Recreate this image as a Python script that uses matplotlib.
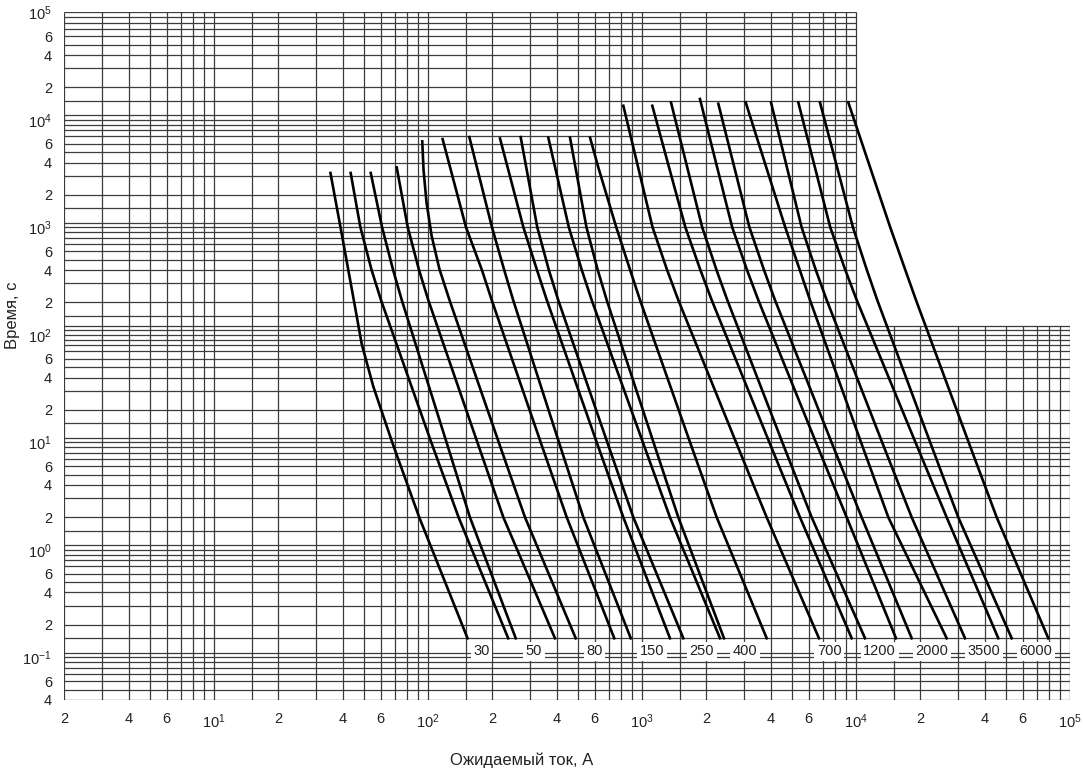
import matplotlib.pyplot as plt
from matplotlib.ticker import NullLocator

plt.rcParams['font.family'] = ['Liberation Sans', 'DejaVu Sans']
plt.rcParams['mathtext.default'] = 'regular'

# time-current characteristics: one list of currents (A) and times (s) per curve
curve_current = [
    [35, 39, 45, 49, 55.5, 68, 91, 153],
    [43.5, 48.3, 54.5, 60.3, 103.5, 139, 237],
    [54, 61, 68.7, 75.4, 122, 157, 257],
    [71.4, 80.4, 90.8, 100.3, 170, 225, 392],
    [94, 95.3, 98.4, 104, 113, 126, 214, 284, 490],
    [117, 150.5, 178.6, 198.5, 336, 445, 742],
    [156, 199, 227, 250, 409, 532, 886],
    [217, 279, 323, 359, 614, 818, 1351],
    [271, 324, 367, 406, 688, 911, 1560],
    [365, 455, 523, 582, 1009, 1351, 2315],
    [461, 550, 621, 684, 1131, 1478, 2416],
    [572, 625, 758, 880, 979, 1676, 2234, 3825],
    [818, 1120, 1310, 1478, 2750, 3825, 6714],
    [1117, 1594, 1874, 2117, 3934, 5474, 9548],
    [1366, 1911, 2229, 2504, 4524, 6209, 11020],
    [1866, 2639, 3095, 3495, 6494, 9047, 15380],
    [2273, 3176, 3716, 4182, 7682, 10630, 18210],
    [3052, 4669, 5462, 6095, 10550, 14160, 26530],
    [4007, 5569, 6488, 7297, 13240, 18210, 32310],
    [5375, 7578, 8913, 10080, 18950, 26530, 46240],
    [6786, 9672, 11240, 12570, 22200, 30060, 53410],
    [9204, 14450, 17000, 19070, 33590, 45450, 79170],
]
curve_time = [
    [3200, 1000, 210, 82, 33, 10, 2, 0.15],
    [3200, 1000, 400, 210, 10, 2, 0.15],
    [3200, 1000, 400, 210, 10, 2, 0.15],
    [3600, 1000, 400, 210, 10, 2, 0.15],
    [6300, 3400, 1700, 830, 410, 210, 10, 2, 0.15],
    [6600, 1000, 400, 210, 10, 2, 0.15],
    [6900, 1000, 400, 210, 10, 2, 0.15],
    [6700, 1000, 400, 210, 10, 2, 0.15],
    [6900, 1000, 400, 210, 10, 2, 0.15],
    [6800, 1000, 400, 210, 10, 2, 0.15],
    [6800, 1000, 400, 210, 10, 2, 0.15],
    [6800, 3600, 1000, 400, 210, 10, 2, 0.15],
    [13500, 1000, 400, 210, 10, 2, 0.15],
    [13500, 1000, 400, 210, 10, 2, 0.15],
    [14500, 1000, 400, 210, 10, 2, 0.15],
    [15600, 1000, 400, 210, 10, 2, 0.15],
    [14100, 1000, 400, 210, 10, 2, 0.15],
    [14500, 1000, 400, 210, 10, 2, 0.15],
    [14500, 1000, 400, 210, 10, 2, 0.15],
    [14500, 1000, 400, 210, 10, 2, 0.15],
    [14500, 1000, 400, 210, 10, 2, 0.15],
    [14500, 1000, 400, 210, 10, 2, 0.15],
]

# rated current labels and where they sit
rating_labels = ['30', '50', '80', '150', '250', '400', '700', '1200', '2000', '3500', '6000']
rating_label_current = [178, 313, 600, 1110, 1900, 3030, 7500, 12900, 22600, 39600, 69300]
rating_label_time = 0.113

x_ticks = [2, 4, 6, 10, 20, 40, 60, 100, 200, 400, 600, 1e3, 2e3, 4e3, 6e3, 1e4,
           2e4, 4e4, 6e4, 1e5]
x_ticklabels = ['2', '4', '6', '$10^{1}$', '2', '4', '6', '$10^{2}$', '2', '4', '6',
                '$10^{3}$', '2', '4', '6', '$10^{4}$', '2', '4', '6', '$10^{5}$']
y_ticks = [1e5, 6e4, 4e4, 2e4, 1e4, 6e3, 4e3, 2e3, 1e3, 600, 400, 200, 100, 60, 40,
           20, 10, 6, 4, 2, 1, 0.6, 0.4, 0.2, 0.1, 0.06, 0.04]
y_ticklabels = ['$10^{5}$', '6', '4', '2', '$10^{4}$', '6', '4', '2', '$10^{3}$', '6', '4',
                '2', '$10^{2}$', '6', '4', '2', '$10^{1}$', '6', '4', '2', '$10^{0}$',
                '6', '4', '2', '$10^{-1}$', '6', '4']

x_min, x_max, x_split = 2, 1e5, 1e4
y_min, y_max, y_split = 0.04, 1e5, 120

fig = plt.figure(figsize=(10.83, 7.72), dpi=100)
ax = fig.add_axes([0.0595, 0.0933, 0.9285, 0.8908])
ax.set_xscale('log')
ax.set_yscale('log')
ax.set_xlim(x_min, x_max)
ax.set_ylim(y_min, y_max)

# log paper: the upper right block has no grid
grid_kw = dict(color='#3c3c3c', lw=0.9, zorder=1)
x_lines = [m * 10 ** k for k in range(0, 5) for m in [1, 1.5, 2, 3, 4, 5, 6, 7, 8, 9]
           if x_min <= m * 10 ** k <= x_max] + [x_max]
for x in x_lines:
    ax.vlines(x, y_min, y_max if x <= x_split else y_split, **grid_kw)
y_lines = [m * 10 ** k for k in range(-2, 5) for m in [1, 1.1, 1.5, 2, 3, 4, 5, 6, 7, 8, 9]
           if y_min <= m * 10 ** k <= y_max] + [y_max, y_split]
for y in y_lines:
    ax.hlines(y, x_min, x_max if y <= y_split else x_split, **grid_kw)

for cur, tm in zip(curve_current, curve_time):
    ax.plot(cur, tm, color='black', lw=1.9, zorder=3)

for lab, cur in zip(rating_labels, rating_label_current):
    ax.text(cur, rating_label_time, lab, ha='center', va='center', fontsize=10.5,
            color='#222222', zorder=4,
            bbox=dict(boxstyle='square,pad=0.18', fc='white', ec='none'))

for s in ax.spines.values():
    s.set_visible(False)
ax.xaxis.set_minor_locator(NullLocator())
ax.yaxis.set_minor_locator(NullLocator())
ax.set_xticks(x_ticks)
ax.set_xticklabels(x_ticklabels)
ax.set_yticks(y_ticks)
ax.set_yticklabels(y_ticklabels)
ax.tick_params(length=0, labelsize=10.5, colors='#222222')
ax.tick_params(axis='x', pad=9)
ax.tick_params(axis='y', pad=9)

fig.text(522 / 1083, 1 - 760 / 772, 'Ожидаемый ток, А', ha='center', va='center',
         fontsize=12, color='#222222')
fig.text(13 / 1083, 1 - 315 / 772, 'Время, с', ha='center', va='center',
         rotation=90, fontsize=12, color='#222222')

fig.savefig('out.png', dpi=100)
